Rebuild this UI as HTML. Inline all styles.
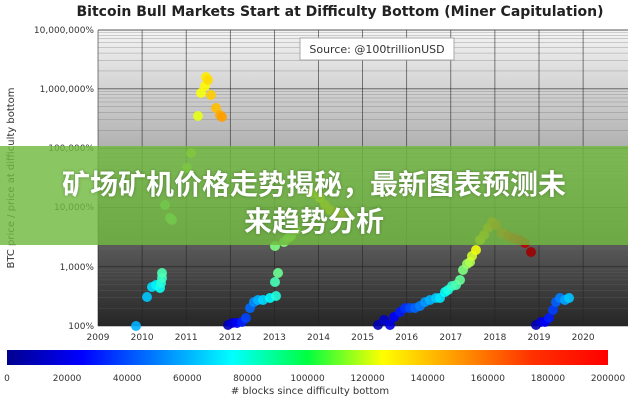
<!DOCTYPE html>
<html><head><meta charset="utf-8"><style>
body{margin:0;width:628px;height:400px;overflow:hidden;background:#fff;font-family:"Liberation Sans","DejaVu Sans",sans-serif}
.t{position:absolute;left:0;top:0}
.banner{position:absolute;left:0;top:146px;width:628px;height:99px;background:rgba(112,185,64,0.82)}
.btxt{position:absolute;left:0;top:166px;width:628px;text-align:center;color:#fff;font-weight:bold;font-size:28px;line-height:37px;font-family:"Liberation Sans","Noto Sans CJK SC",sans-serif;text-shadow:0 0 3px rgba(0,0,0,0.3)}
</style></head><body>
<svg class="t" width="628" height="400" xmlns="http://www.w3.org/2000/svg" font-family="DejaVu Sans, Liberation Sans, sans-serif">
<defs>
<linearGradient id="bg" x1="0" y1="0" x2="0" y2="1">
<stop offset="0" stop-color="#f4f4f4"/><stop offset="0.45" stop-color="#a8a8a8"/><stop offset="0.75" stop-color="#555"/><stop offset="1" stop-color="#262626"/></linearGradient>
<linearGradient id="jet" x1="0" y1="0" x2="1" y2="0">
<stop offset="0" stop-color="#00008f"/><stop offset="0.125" stop-color="#0000ff"/><stop offset="0.375" stop-color="#00ffff"/><stop offset="0.5" stop-color="#00ff40"/><stop offset="0.625" stop-color="#ffff00"/><stop offset="0.875" stop-color="#ff3000"/><stop offset="1" stop-color="#ff0000"/></linearGradient>
</defs>
<text x="340" y="16" text-anchor="middle" font-size="14" font-weight="bold" fill="#222">Bitcoin Bull Markets Start at Difficulty Bottom (Miner Capitulation)</text>
<rect x="98" y="30" width="530" height="296" fill="url(#bg)"/>
<g id="grid"></g>
<g font-size="9" fill="#333" text-anchor="end">
<text x="94" y="33">10,000,000%</text><text x="94" y="92">1,000,000%</text><text x="94" y="151">100,000%</text><text x="94" y="210">10,000%</text><text x="94" y="270">1,000%</text><text x="94" y="329">100%</text></g>
<g font-size="9" fill="#333" text-anchor="middle" id="yrs"></g>
<text transform="translate(14,178) rotate(-90)" text-anchor="middle" font-size="10" fill="#333">BTC price / price at difficulty bottom</text>
<rect x="300" y="38" width="154" height="22" fill="#fff" stroke="#aaa"/>
<text x="377" y="53" text-anchor="middle" font-size="11" fill="#333">Source: @100trillionUSD</text>
<g id="dots"></g>
<rect x="7" y="350" width="601" height="15" fill="url(#jet)"/>
<g font-size="9" fill="#333" text-anchor="middle" id="cb"></g>
<text x="310" y="394" text-anchor="middle" font-size="10" fill="#333"># blocks since difficulty bottom</text>
</svg>
<div class="banner"></div>
<div class="btxt">矿场矿机价格走势揭秘，最新图表预测未<br>来趋势分析</div>
<script>
var NS="http://www.w3.org/2000/svg";
function el(p,t,a,txt){var e=document.createElementNS(NS,t);for(var k in a)e.setAttribute(k,a[k]);if(txt)e.textContent=txt;document.getElementById(p).appendChild(e);}
for(var d=0;d<5;d++){for(var m=1;m<10;m++){var y=326-(d+Math.log10(m))*59.3;el("grid","line",{x1:98,x2:628,y1:y,y2:y,stroke:m==1?"#222":"#666","stroke-width":m==1?0.8:0.4,opacity:0.7});}}
el("grid","line",{x1:98,x2:628,y1:30,y2:30,stroke:"#222","stroke-width":0.8});
for(var i=0;i<12;i++){var x=98+i*44.1;el("grid","line",{x1:x,x2:x,y1:30,y2:326,stroke:"#222","stroke-width":0.7,opacity:0.8});el("yrs","text",{x:x,y:340},String(2009+i));}
for(var i=0;i<=10;i++){el("cb","text",{x:7+i*60.1,y:381},String(i*20000));}
function jet(t){function c(x){return Math.max(0,Math.min(1,x));}var r=c(1.5-Math.abs(4*t-3)),g=c(1.5-Math.abs(4*t-2)),b=c(1.5-Math.abs(4*t-1));return "rgb("+Math.round(r*255)+","+Math.round(g*255)+","+Math.round(b*255)+")";}
var S=[
[[136,326],[147,297],[152,287],[156,285],[160,288],[161,283],[162,278],[162,273],[165,205],[170,218],[172,220],[187,168],[191,153],[198,116],[201,93],[205,86],[206,77],[208,80],[211,95],[216,108],[220,115],[222,117]],
[[228,325],[232,323],[237,323],[242,322],[246,318],[250,308],[254,302],[258,300],[263,300],[270,298],[276,296],[275,282],[278,273],[275,246],[284,242],[288,238],[291,236],[296,230],[312,193],[320,198],[325,205],[330,210],[336,212],[342,215]],
[[378,325],[384,320],[390,325],[394,317],[400,312],[405,308],[410,308],[415,308],[420,306],[425,302],[430,300],[436,298],[440,298],[445,292],[448,290],[452,286],[456,285],[460,280],[463,270],[467,264],[470,262],[472,256],[476,250],[480,240],[484,235],[488,228],[492,222],[496,225],[502,233],[508,236],[514,238],[520,240],[525,243],[531,252]],
[[536,325],[541,322],[545,322],[549,318],[553,310],[556,302],[560,298],[565,300],[569,298]]];
var SEG=[
[[0,7,0.3,0.45],[8,10,0.5,0.5],[11,12,0.55,0.57],[13,21,0.6,0.72]],
[[0,12,0.05,0.48],[13,17,0.5,0.55],[18,23,0.62,0.72]],
[[0,20,0.05,0.55],[21,33,0.58,0.97]],
[[0,8,0.05,0.32]]];
function tOf(j,i){var sg=SEG[j];for(var k=0;k<sg.length;k++){var g=sg[k];if(i>=g[0]&&i<=g[1]){return g[1]==g[0]?g[2]:g[2]+(g[3]-g[2])*(i-g[0])/(g[1]-g[0]);}}return 0.5;}
S.forEach(function(s,j){s.forEach(function(p,i){el("dots","circle",{cx:p[0],cy:p[1],r:5,fill:jet(tOf(j,i)),opacity:0.9});});});
</script>
</body></html>
